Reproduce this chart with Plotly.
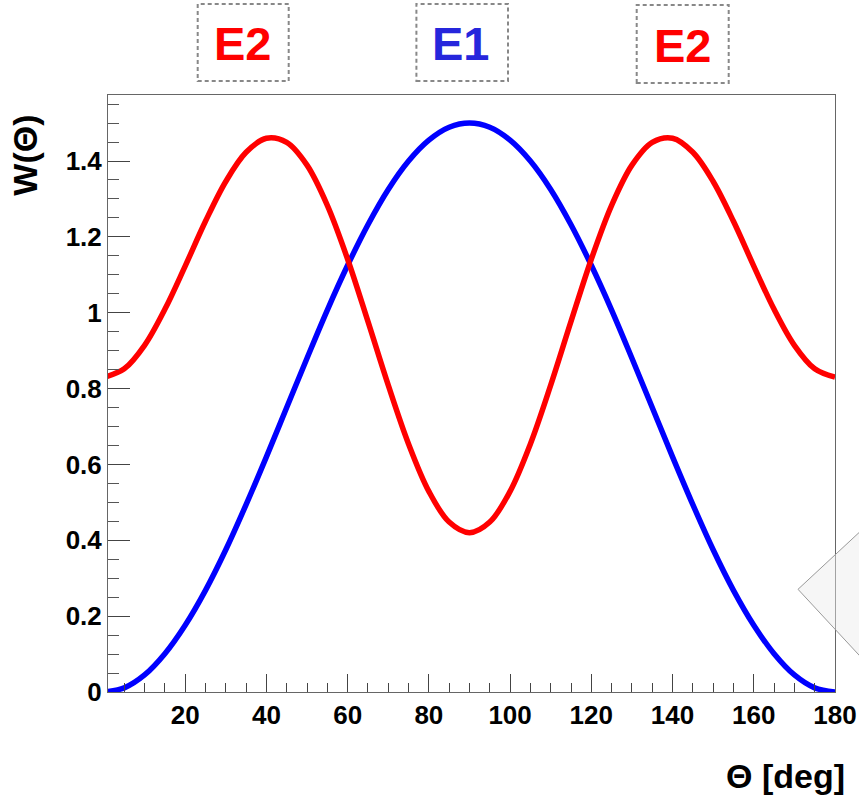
import plotly.graph_objects as go

theta = [0, 5, 10, 15, 20, 25, 30, 35, 40, 45, 50, 55, 60, 65, 70, 75, 80, 85, 90,
         95, 100, 105, 110, 115, 120, 125, 130, 135, 140, 145, 150, 155, 160, 165, 170, 175, 180]
w_e2 = [0.830, 0.852, 0.914, 1.009, 1.123, 1.241, 1.346, 1.423, 1.460, 1.449, 1.389, 1.283, 1.141,
        0.977, 0.809, 0.654, 0.529, 0.448, 0.420, 0.448, 0.529, 0.654, 0.809, 0.977, 1.141, 1.283,
        1.389, 1.449, 1.460, 1.423, 1.346, 1.241, 1.123, 1.009, 0.914, 0.852, 0.830]
w_e1 = [0.000, 0.011, 0.045, 0.101, 0.176, 0.268, 0.375, 0.494, 0.620, 0.750, 0.880, 1.007, 1.125,
        1.232, 1.325, 1.400, 1.455, 1.489, 1.500, 1.489, 1.455, 1.400, 1.325, 1.232, 1.125, 1.007,
        0.880, 0.750, 0.620, 0.494, 0.375, 0.268, 0.176, 0.101, 0.045, 0.011, 0.000]

x_ticks = [20, 40, 60, 80, 100, 120, 140, 160, 180]
y_ticks = [0, 0.2, 0.4, 0.6, 0.8, 1.0, 1.2, 1.4]
y_tick_text = ["0", "0.2", "0.4", "0.6", "0.8", "1", "1.2", "1.4"]
labels = ["E2", "E1", "E2"]

FONT = "Liberation Sans, Arial, Helvetica, sans-serif"

fig = go.Figure()
fig.add_trace(go.Scatter(x=theta, y=w_e1, mode="lines", line=dict(color="#0000ff", width=5.5, shape="spline"),
                         showlegend=False, hoverinfo="skip"))
fig.add_trace(go.Scatter(x=theta, y=w_e2, mode="lines", line=dict(color="#ff0000", width=5.5, shape="spline"),
                         showlegend=False, hoverinfo="skip"))

axis_common = dict(showgrid=False, zeroline=False, showline=True, linecolor="#666666", linewidth=1,
                   mirror=True, ticks="inside", tickcolor="#444444", tickwidth=1, automargin=False,
                   tickfont=dict(family=FONT, size=26, color="black", weight="bold"))

fig.update_xaxes(range=[1, 180], tickmode="array", tickvals=x_ticks, ticklen=18,
                 minor=dict(dtick=5, tick0=0, ticks="inside", ticklen=9, tickcolor="#444444"),
                 **axis_common)
fig.update_yaxes(range=[0, 1.574], tickmode="array", tickvals=y_ticks, ticktext=y_tick_text, ticklen=22,
                 minor=dict(dtick=0.05, tick0=0, ticks="inside", ticklen=11, tickcolor="#555555"),
                 **axis_common)

# label boxes (pixel positions converted to paper fractions)
L, T, W, H = 108.3, 95.0, 727.0, 597.0
def px(xp):
    return (xp - L) / W
def py(yp):
    return (T + H - yp) / H

boxes = [(198, 289, 4, 81, 243.5, 44, "#ff0000"),
         (416.7, 508.3, 4, 81, 461.5, 44, "#2626dc"),
         (637, 729, 5, 83, 683, 45, "#ff0000")]
shapes = []
annotations = []
for (x0, x1, y0, y1, cx, cy, col), lab in zip(boxes, labels):
    shapes.append(dict(type="rect", xref="paper", yref="paper", x0=px(x0), x1=px(x1), y0=py(y1), y1=py(y0),
                       line=dict(color="#888888", width=2, dash="4px,3px"), fillcolor="rgba(0,0,0,0)"))
    annotations.append(dict(text=lab, xref="paper", yref="paper", x=px(cx), y=py(cy), xanchor="center",
                            yanchor="middle", showarrow=False,
                            font=dict(family=FONT, size=47, color=col, weight="bold")))

# triangle artifact on right edge
shapes.append(dict(type="path", xref="paper", yref="paper",
                   path="M %f,%f L %f,%f L %f,%f Z" % (px(798.3), py(589.3), px(875), py(518), px(875), py(672)),
                   line=dict(color="#999999", width=1), fillcolor="rgba(235,235,235,0.45)"))

annotations.append(dict(text="W(Θ)", xref="paper", yref="paper", x=px(25), y=py(155), textangle=-90,
                        xanchor="center", yanchor="middle", showarrow=False,
                        font=dict(family=FONT, size=34, color="black", weight="bold")))
annotations.append(dict(text="Θ [deg]", xref="paper", yref="paper", x=px(847), y=py(776), xanchor="right",
                        yanchor="middle", showarrow=False,
                        font=dict(family=FONT, size=34, color="black", weight="bold")))

fig.update_layout(width=859, height=795, margin=dict(l=108, r=24, t=95, b=103, pad=0), autosize=False,
                  paper_bgcolor="white", plot_bgcolor="white", shapes=shapes, annotations=annotations)

fig.write_html("out.html")
